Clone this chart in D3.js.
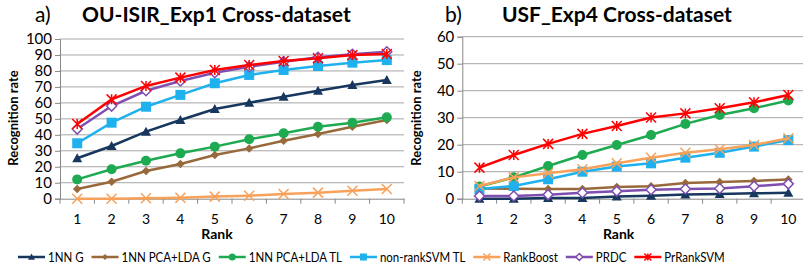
<!DOCTYPE html>
<html>
<head>
<meta charset="utf-8">
<script src="https://cdn.jsdelivr.net/npm/d3@7"></script>
<style>
  html, body { margin: 0; padding: 0; background: #fff; }
  svg text { font-family: Lato, "Open Sans", sans-serif; fill: #000; }
</style>
</head>
<body>
<svg id="viz" width="803" height="270"></svg>
<script>
// ranks on the x axis
var ranks = [1, 2, 3, 4, 5, 6, 7, 8, 9, 10];

var seriesNames = ["1NN G", "1NN PCA+LDA G", "1NN PCA+LDA TL", "non-rankSVM TL", "RankBoost", "PRDC", "PrRankSVM"];

// a) OU-ISIR_Exp1 Cross-dataset
var ouNN_G      = [25.3, 33, 42, 49.3, 56.2, 60.1, 63.9, 67.6, 71.2, 74.3];
var ouPcaLda_G  = [6.1, 10.6, 17.3, 21.7, 27.4, 31.5, 36.3, 40.5, 45.1, 49.3];
var ouPcaLda_TL = [12.1, 18.4, 23.8, 28.4, 32.6, 37.2, 41, 45.1, 47.6, 51];
var ouNonRank   = [34.7, 47.6, 57.6, 65, 72.3, 77.5, 80.6, 83.1, 85.2, 86.8];
var ouRankBoost = [0, 0, 0.3, 0.6, 1.3, 1.9, 2.9, 3.8, 5, 6.1];
var ouPRDC      = [43.6, 58, 67.6, 73.7, 78.9, 82.6, 85.8, 88.5, 90.4, 92];
var ouPrRank    = [46.8, 62.2, 70.6, 75.8, 80.6, 83.7, 86.2, 87.9, 90, 90.6];

// b) USF_Exp4 Cross-dataset
var usfNN_G      = [0, 0, 0.3, 0.3, 0.8, 1.1, 1.6, 1.7, 2, 2.2];
var usfPcaLda_G  = [3.8, 3.7, 3.6, 3.6, 4.3, 4.6, 5.8, 6.2, 6.6, 7.1];
var usfPcaLda_TL = [4.5, 7.9, 12.1, 16.2, 19.9, 23.6, 27.7, 31, 33.5, 36.4];
var usfNonRank   = [3.6, 4.7, 7.2, 10, 11.9, 13.1, 15.2, 17, 19.3, 21.7];
var usfRankBoost = [4.7, 7.9, 9.4, 10.9, 13.1, 15.2, 17, 18.3, 19.9, 22.4];
var usfPRDC      = [1, 1, 1.5, 2.2, 2.8, 3.3, 3.6, 3.8, 4.6, 5.5];
var usfPrRank    = [11.5, 16.2, 20.3, 24, 26.9, 30.1, 31.6, 33.5, 35.7, 38.4];

var ticksA = [0, 10, 20, 30, 40, 50, 60, 70, 80, 90, 100];
var ticksB = [0, 10, 20, 30, 40, 50, 60];

var styles = [
  { color: "#17375E", marker: "triangle", fill: "#17375E" },
  { color: "#98693A", marker: "diamond", fill: "#98693A" },
  { color: "#1DAA50", marker: "circle", fill: "#1DAA50" },
  { color: "#1EB1EE", marker: "square", fill: "#1EB1EE" },
  { color: "#F8A15A", marker: "x", fill: "none" },
  { color: "#7E4FB0", marker: "hdiamond", fill: "#fff" },
  { color: "#FF0000", marker: "star", fill: "none" }
];

var svg = d3.select("#viz");

function drawMarker(g, kind, st, s) {
  // s = half size
  if (kind === "triangle") {
    g.append("path").attr("d", "M0," + (-s) + "L" + s + "," + (s * 0.8) + "L" + (-s) + "," + (s * 0.8) + "Z")
      .attr("fill", st.fill);
  } else if (kind === "diamond") {
    var d = s * 0.85;
    g.append("path").attr("d", "M0," + (-d) + "L" + d + ",0L0," + d + "L" + (-d) + ",0Z").attr("fill", st.fill);
  } else if (kind === "hdiamond") {
    g.append("path").attr("d", "M0," + (-s) + "L" + s + ",0L0," + s + "L" + (-s) + ",0Z")
      .attr("fill", st.fill).attr("stroke", st.color).attr("stroke-width", 1.5);
  } else if (kind === "circle") {
    g.append("circle").attr("r", s).attr("fill", st.fill);
  } else if (kind === "square") {
    g.append("rect").attr("x", -s).attr("y", -s).attr("width", 2 * s).attr("height", 2 * s).attr("fill", st.fill);
  } else if (kind === "x") {
    g.append("path").attr("d", "M" + (-s) + "," + (-s) + "L" + s + "," + s + "M" + s + "," + (-s) + "L" + (-s) + "," + s)
      .attr("stroke", st.color).attr("stroke-width", 1.5).attr("fill", "none");
  } else if (kind === "star") {
    g.append("path").attr("d", "M" + (-s) + "," + (-s) + "L" + s + "," + s + "M" + s + "," + (-s) + "L" + (-s) + "," + s +
        "M0," + (-s) + "L0," + s)
      .attr("stroke", st.color).attr("stroke-width", 1.5).attr("fill", "none");
  }
}

function drawChart(opt) {
  var x = d3.scaleBand().domain(ranks).range([opt.left, opt.right]);
  var y = d3.scaleLinear().domain([0, opt.max]).range([198.7, opt.top]);
  var cx = function(r) { return x(r) + x.bandwidth() / 2; };

  var g = svg.append("g");

  // gridlines
  g.selectAll(".grid").data(opt.ticks.filter(function(t) { return t > 0; }))
    .enter().append("line")
    .attr("x1", opt.left).attr("x2", opt.right)
    .attr("y1", function(d) { return y(d); }).attr("y2", function(d) { return y(d); })
    .attr("stroke", "#A6A6A6").attr("stroke-width", 1);

  // y axis
  var yAxis = g.append("g").attr("transform", "translate(" + opt.left + ",0)")
    .call(d3.axisLeft(y).tickValues(opt.ticks).tickSize(5).tickPadding(3));
  yAxis.select(".domain").attr("stroke", "#888");
  yAxis.selectAll(".tick line").attr("stroke", "#888");
  yAxis.selectAll(".tick text").attr("font-size", 15).attr("font-family", "Lato, sans-serif").attr("fill", "#000");

  // x axis: line + tick marks at band boundaries
  var xAxis = g.append("g").attr("transform", "translate(0," + y(0) + ")")
    .call(d3.axisBottom(x).tickSize(0).tickPadding(15));
  xAxis.select(".domain").attr("stroke", "#888");
  xAxis.selectAll(".tick text").attr("font-size", 14).attr("font-family", "Lato, sans-serif").attr("fill", "#000");
  var edges = ranks.map(function(r) { return x(r); }).concat([opt.right]);
  xAxis.selectAll(".edge").data(edges).enter().append("line")
    .attr("x1", function(d) { return d; }).attr("x2", function(d) { return d; })
    .attr("y1", 0).attr("y2", 5).attr("stroke", "#888");

  // series
  var line = d3.line().x(function(d, i) { return cx(ranks[i]); }).y(function(d) { return y(d); });
  opt.series.forEach(function(vals, si) {
    var st = styles[si];
    g.append("path").datum(vals).attr("d", line)
      .attr("fill", "none").attr("stroke", st.color).attr("stroke-width", 2.5);
    vals.forEach(function(v, i) {
      var mg = g.append("g").attr("transform", "translate(" + cx(ranks[i]) + "," + y(v) + ")");
      drawMarker(mg, st.marker, st, 5);
    });
  });

  // titles
  svg.append("text").attr("x", opt.labelX).attr("y", 22).attr("font-size", 21).text(opt.label);
  svg.append("text").attr("x", opt.titleX).attr("y", 22).attr("font-size", 21).attr("font-weight", "bold").text(opt.title);

  svg.append("text").attr("transform", "translate(" + opt.yLabelX + "," + 118 + ") rotate(-90)")
    .attr("text-anchor", "middle").attr("font-size", 13).attr("font-weight", "bold").text("Recognition rate");
  svg.append("text").attr("x", (opt.left + Math.min(opt.right, 803)) / 2 + opt.rankShift).attr("y", 239)
    .attr("text-anchor", "middle").attr("font-size", 14).attr("font-weight", "bold").text("Rank");
}

drawChart({
  left: 60, right: 404, top: 39, max: 100, ticks: ticksA,
  series: [ouNN_G, ouPcaLda_G, ouPcaLda_TL, ouNonRank, ouRankBoost, ouPRDC, ouPrRank],
  label: "a)", labelX: 35, title: "OU-ISIR_Exp1 Cross-dataset", titleX: 82, yLabelX: 18, rankShift: -15
});

drawChart({
  left: 462.3, right: 805.5, top: 36.7, max: 60, ticks: ticksB,
  series: [usfNN_G, usfPcaLda_G, usfPcaLda_TL, usfNonRank, usfRankBoost, usfPRDC, usfPrRank],
  label: "b)", labelX: 445, title: "USF_Exp4 Cross-dataset", titleX: 502, yLabelX: 421, rankShift: -14
});

// legend (text squeezed horizontally like the narrow original font)
var lx = 18;
seriesNames.forEach(function(name, i) {
  var st = styles[i];
  var lg = svg.append("g").attr("transform", "translate(" + lx + ",257)");
  lg.append("line").attr("x1", 0).attr("x2", 27).attr("y1", 0).attr("y2", 0)
    .attr("stroke", st.color).attr("stroke-width", 2.5);
  var mg = lg.append("g").attr("transform", "translate(13.5,0)");
  drawMarker(mg, st.marker, st, 3.5);
  var t = lg.append("text").attr("x", 30).attr("y", 5).attr("font-size", 14).text(name);
  var w = t.node().getComputedTextLength() * 0.82;
  t.attr("textLength", w).attr("lengthAdjust", "spacingAndGlyphs");
  lx += 30 + w + 8;
});
</script>
</body>
</html>
